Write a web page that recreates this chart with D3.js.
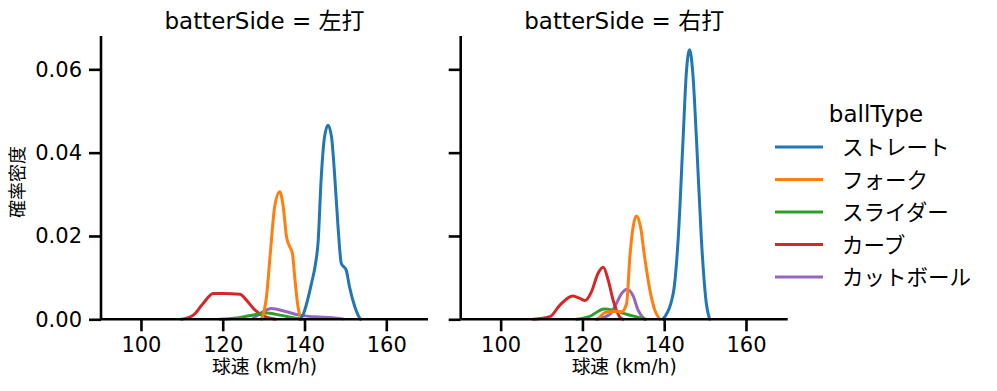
<!DOCTYPE html>
<html><head><meta charset="utf-8">
<script src="https://cdn.jsdelivr.net/npm/d3@7"></script>
<style>body{margin:0;background:#fff}text{font-family:"DejaVu Sans","Noto Sans CJK JP",sans-serif;fill:#000}</style>
</head><body><svg id="c" width="997" height="391"></svg>
<script>
// ---- data: [speed km/h, density]
const panels = ["左打", "右打"];
const ballTypes = ["ストレート", "フォーク", "スライダー", "カーブ", "カットボール"];
const colors = ["#1f77b4", "#ff7f0e", "#2ca02c", "#d62728", "#9467bd"];
const xTicks = [100, 120, 140, 160];
const yTicks = [0, 0.02, 0.04, 0.06];

const left_straight = [[138.9,0],[139.6,0.001],[141.7,0.0086],[142.7,0.0134],[143.3,0.0182],[144.1,0.0342],[144.9,0.0438],[145.75,0.0466],[146.6,0.0438],[147.4,0.0342],[148.2,0.0222],[149.0,0.0134],[150.2,0.0118],[151.0,0.0078],[152.3,0.003],[153.1,0.001],[153.7,0]];
const left_fork = [[129.5,0],[130.7,0.0054],[131.7,0.0166],[132.7,0.027],[133.95,0.0306],[134.8,0.027],[135.6,0.0198],[136.4,0.0174],[137.05,0.0158],[137.6,0.0102],[138.3,0.0038],[139.0,0.0005],[139.5,0]];
const left_slider = [[119.3,0],[123.5,0.0003],[128.3,0.0012],[130.7,0.0015],[134.0,0.001],[138.1,0.0002],[139.5,0]];
const left_curve = [[109.9,0],[112.8,0.001],[115.2,0.0038],[117.7,0.0062],[120.1,0.0062],[124.2,0.006],[125.8,0.0046],[127.5,0.0026],[129.1,0.0013],[130.7,0.0005],[132.9,0]];
const left_cutter = [[127.4,0.0002],[129.5,0.0016],[131.9,0.0026],[135.6,0.0018],[138.8,0.001],[142.5,0.0006],[146.9,0.0004],[149.4,0.0001]];

const right_straight = [[139.7,0],[142.2,0.0062],[143.4,0.019],[144.6,0.043],[145.4,0.059],[146.2,0.0647],[147.0,0.059],[147.9,0.043],[149.1,0.019],[150.3,0.0038],[151.1,0]];
const right_fork = [[123.8,0],[125.5,0.0016],[127.5,0.0019],[129.6,0.0018],[130.8,0.0038],[131.6,0.015],[132.4,0.0222],[133.2,0.0248],[134.2,0.0222],[135.2,0.015],[136.5,0.007],[137.7,0.0022],[138.9,0]];
const right_slider = [[118.6,0],[121.8,0.0007],[125.3,0.0025],[127.5,0.0022],[130.8,0.0012],[134.8,0.0002],[135.5,0]];
const right_curve = [[107.96,0],[112.0,0.0006],[114.5,0.0034],[117.6,0.0056],[119.4,0.005],[120.6,0.0045],[122.2,0.0066],[123.8,0.011],[125.1,0.0125],[126.3,0.0094],[127.5,0.0046],[129.1,0.0006],[129.9,0]];
const right_cutter = [[123.4,0],[126.7,0.0012],[128.3,0.0038],[129.6,0.0062],[130.9,0.0072],[132.4,0.0056],[133.6,0.0022],[135.2,0]];

const seriesByPanel = [
  [left_straight, left_fork, left_slider, left_curve, left_cutter],
  [right_straight, right_fork, right_slider, right_curve, right_cutter]
];

// ---- layout
const svg = d3.select("#c");
const panelLeft = [101, 460.7];
const panelW = 327, plotTop = 36, plotBottom = 319.3;
const y = d3.scaleLinear().domain([0, 0.068]).range([plotBottom, plotTop]);

panels.forEach((p, i) => {
  const x = d3.scaleLinear().domain([90.23, 170.2]).range([panelLeft[i], panelLeft[i] + panelW]);
  const g = svg.append("g");
  const line = d3.line().x(d => x(d[0])).y(d => y(d[1])).curve(d3.curveMonotoneX);
  for (let k = ballTypes.length - 1; k >= 0; k--) {
    g.append("path").datum(seriesByPanel[i][k])
      .attr("fill", "none").attr("stroke", colors[k]).attr("stroke-width", 3)
      .attr("stroke-linejoin", "round").attr("stroke-linecap", "round")
      .attr("d", line);
  }
  const xa = g.append("g").attr("transform", `translate(0,${plotBottom})`)
    .call(d3.axisBottom(x).tickValues(xTicks).tickFormat(d3.format("d")).tickSize(12).tickPadding(6));
  const ya = g.append("g").attr("transform", `translate(${panelLeft[i]},0)`)
    .call(d3.axisLeft(y).tickValues(yTicks).tickFormat(i === 0 ? d3.format(".2f") : () => "").tickSize(12).tickPadding(7));
  [xa, ya].forEach(a => {
    a.select(".domain").attr("stroke", "#000").attr("stroke-width", 2.6);
    a.selectAll(".tick line").attr("stroke", "#000").attr("stroke-width", 2.6);
    a.selectAll(".tick text").style("font-size", "21px").style("font-family", "DejaVu Sans").attr("fill", "#000");
  });
  ya.select(".domain").attr("d", `M0,${plotTop}V${plotBottom}`);
  xa.select(".domain").attr("d", `M${panelLeft[i]},0H${panelLeft[i] + panelW}`);
  g.append("text").attr("x", panelLeft[i] + panelW / 2).attr("y", 373)
    .attr("text-anchor", "middle").style("font-size", "18.7px").text("球速 (km/h)");
  g.append("text").attr("x", panelLeft[i] + panelW / 2).attr("y", 29)
    .attr("text-anchor", "middle").style("font-size", "23px").text("batterSide = " + p);
});

svg.append("text").attr("transform", `translate(24,182) rotate(-90)`)
  .attr("text-anchor", "middle").style("font-size", "18px").text("確率密度");

const lg = svg.append("g");
lg.append("text").attr("x", 876).attr("y", 122).attr("text-anchor", "middle")
  .style("font-size", "23px").text("ballType");
ballTypes.forEach((b, k) => {
  const yy = 147 + k * 32.5;
  lg.append("line").attr("x1", 775).attr("x2", 823).attr("y1", yy).attr("y2", yy)
    .attr("stroke", colors[k]).attr("stroke-width", 3);
  lg.append("text").attr("x", 842).attr("y", yy + 8).style("font-size", "21.5px").text(b);
});
</script></body></html>
